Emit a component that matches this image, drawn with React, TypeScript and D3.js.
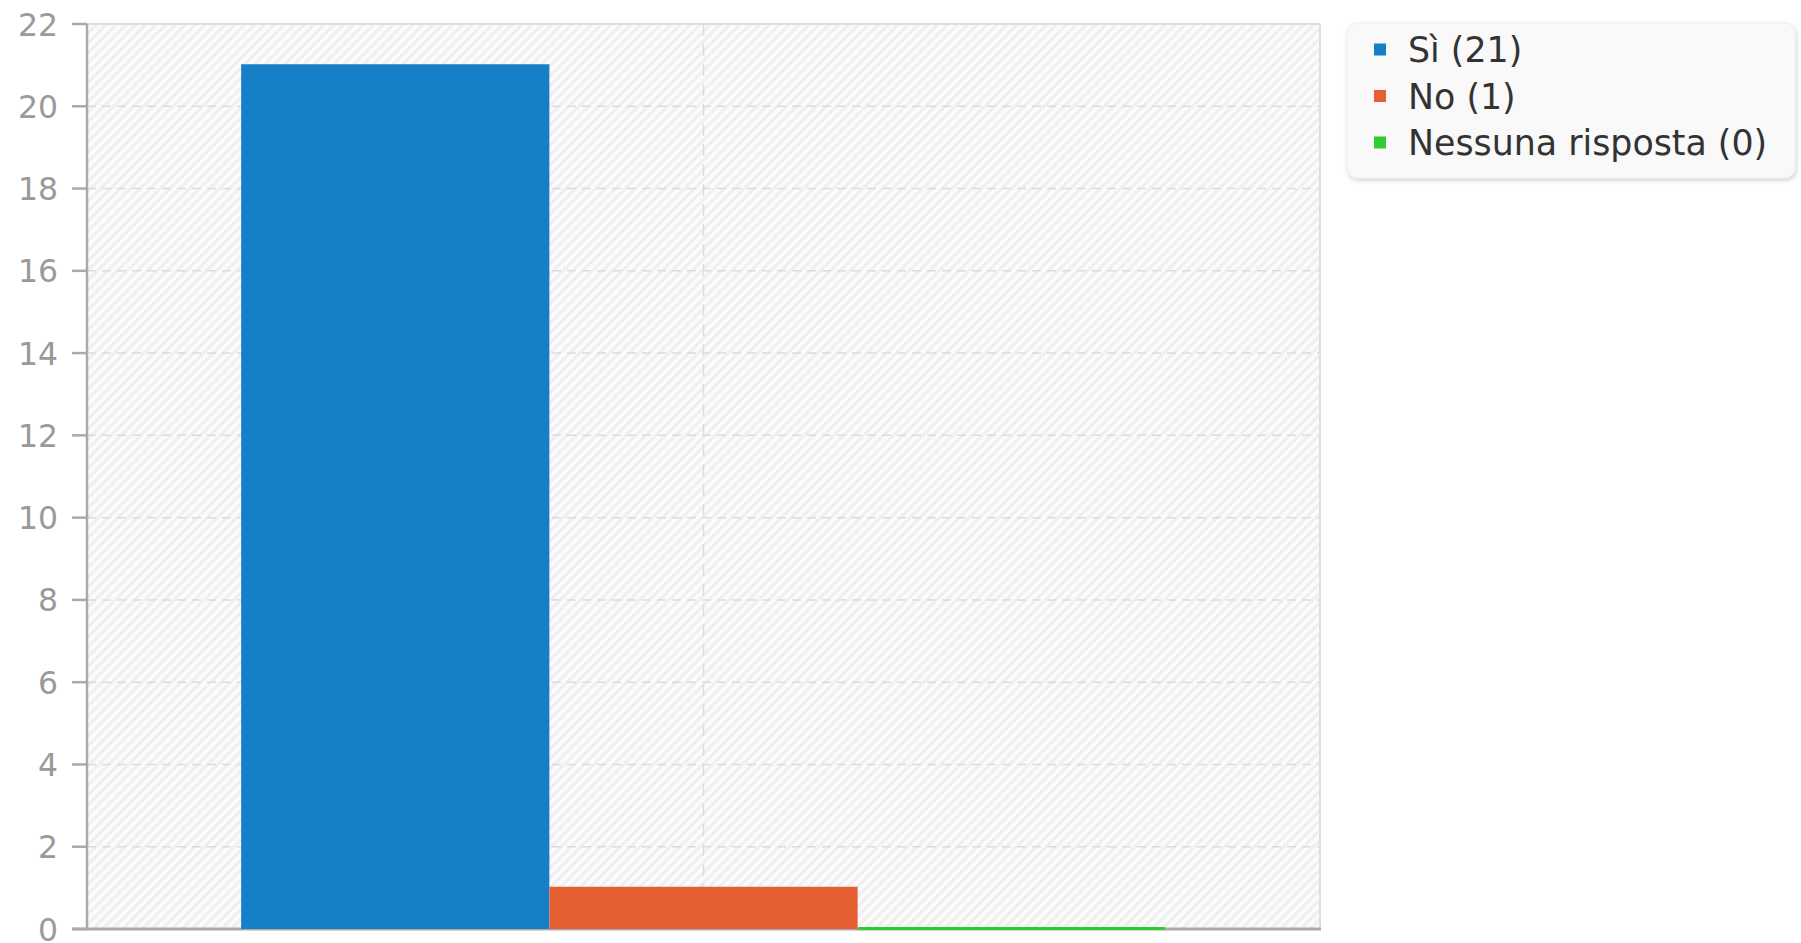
import React from "react";
import * as d3 from "d3";

const categories = ["Sì", "No", "Nessuna risposta"];
const values = [21, 1, 0];
const colors = ["#1580c8", "#e65f33", "#2fcb2f"];
const yTicks = [0, 2, 4, 6, 8, 10, 12, 14, 16, 18, 20, 22];

const W = 1801;
const H = 943;
const plot = { left: 87, right: 1320, top: 24, bottom: 929 };
const FONT = "'DejaVu Sans', Verdana, sans-serif";

export default function App() {
  const x = d3.scaleLinear().domain([0, 1]).range([plot.left, plot.right]);
  const y = d3.scaleLinear().domain([0, 22]).range([plot.bottom, plot.top]);
  const barW = 0.25;
  const start = 0.5 - (barW * values.length) / 2;

  const barOutline = (i: number) => {
    const p = d3.path();
    const x0 = x(start + i * barW) + 1;
    const x1 = x(start + (i + 1) * barW) - 1;
    p.moveTo(x0, y(0));
    p.lineTo(x0, y(values[i]));
    p.lineTo(x1, y(values[i]));
    p.lineTo(x1, y(0));
    return p.toString();
  };

  const legendX = 1347;
  const legendY = 23;
  const rowBase = [62, 108.5, 155];

  return (
    <div style={{ position: "absolute", left: 0, top: 0 }}>
      <svg width={W} height={H} style={{ display: "block", background: "#fff" }}>
        <defs>
          <pattern id="hatch" width="7" height="7" patternUnits="userSpaceOnUse" patternTransform="rotate(45)">
            <rect width="7" height="7" fill="#fbfbfb" />
            <line x1="1.5" y1="0" x2="1.5" y2="7" stroke="#efefef" strokeWidth="3" />
          </pattern>
          <filter id="shadow" x="-5%" y="-10%" width="115%" height="130%">
            <feDropShadow dx="1" dy="2" stdDeviation="2" floodColor="#000" floodOpacity="0.18" />
          </filter>
        </defs>

        {/* plot background */}
        <rect x={plot.left} y={plot.top} width={plot.right - plot.left} height={plot.bottom - plot.top} fill="url(#hatch)" />

        {/* horizontal grid */}
        {yTicks.filter((t) => t > 0 && t < 22).map((t) => (
          <line key={"g" + t} x1={plot.left} x2={plot.right} y1={y(t)} y2={y(t)} stroke="#dcdcdc" strokeWidth={1.5} strokeDasharray="9,6" />
        ))}
        {/* vertical grid at category center */}
        <line x1={x(0.5)} x2={x(0.5)} y1={plot.top} y2={plot.bottom} stroke="#dcdcdc" strokeWidth={1.5} strokeDasharray="12,8" />

        {/* plot border top/right */}
        <line x1={plot.left} x2={plot.right} y1={plot.top} y2={plot.top} stroke="#dedede" strokeWidth={2} />
        <line x1={plot.right} x2={plot.right} y1={plot.top} y2={plot.bottom} stroke="#dedede" strokeWidth={2} />

        {/* axes */}
        <line x1={plot.left} x2={plot.left} y1={plot.top} y2={plot.bottom + 1} stroke="#aaaaaa" strokeWidth={2.5} />
        <line x1={plot.left - 15} x2={plot.right + 1} y1={plot.bottom} y2={plot.bottom} stroke="#aaaaaa" strokeWidth={3} />
        {yTicks.map((t) => (
          <g key={"t" + t}>
            <line x1={plot.left - 15} x2={plot.left} y1={y(t)} y2={y(t)} stroke="#aaaaaa" strokeWidth={2.5} />
            <text x={58} y={y(t) + 11.5} textAnchor="end" fontFamily={FONT} fontSize={31.5} fill="#9a9a9a">
              {t}
            </text>
          </g>
        ))}

        {/* bars */}
        {values.map((v, i) => (
          <g key={"b" + i}>
            <rect
              x={x(start + i * barW) + 1}
              y={y(v)}
              width={x(start + (i + 1) * barW) - x(start + i * barW) - 2}
              height={y(0) - y(v)}
              fill={colors[i]}
            />
            <path d={barOutline(i)} fill="none" stroke={colors[i]} strokeWidth={2} />
          </g>
        ))}
        {/* zero-height bar line */}
        {values.map((v, i) =>
          v === 0 ? (
            <line key={"z" + i} x1={x(start + i * barW) + 1} x2={x(start + (i + 1) * barW) - 1} y1={y(0) - 0.5} y2={y(0) - 0.5} stroke={colors[i]} strokeWidth={3} />
          ) : null
        )}

        {/* legend */}
        <rect x={legendX} y={legendY} width={448} height={155} rx={10} ry={10} fill="#f9f9f9" stroke="#eeeeee" strokeWidth={1} filter="url(#shadow)" />
        {categories.map((c, i) => (
          <g key={"l" + i}>
            <rect x={1374} y={rowBase[i] - 18.5} width={12} height={12} fill={colors[i]} />
            <text x={1408} y={rowBase[i]} fontFamily={FONT} fontSize={34.8} fill="#333333">
              {`${c} (${values[i]})`}
            </text>
          </g>
        ))}
      </svg>
    </div>
  );
}
